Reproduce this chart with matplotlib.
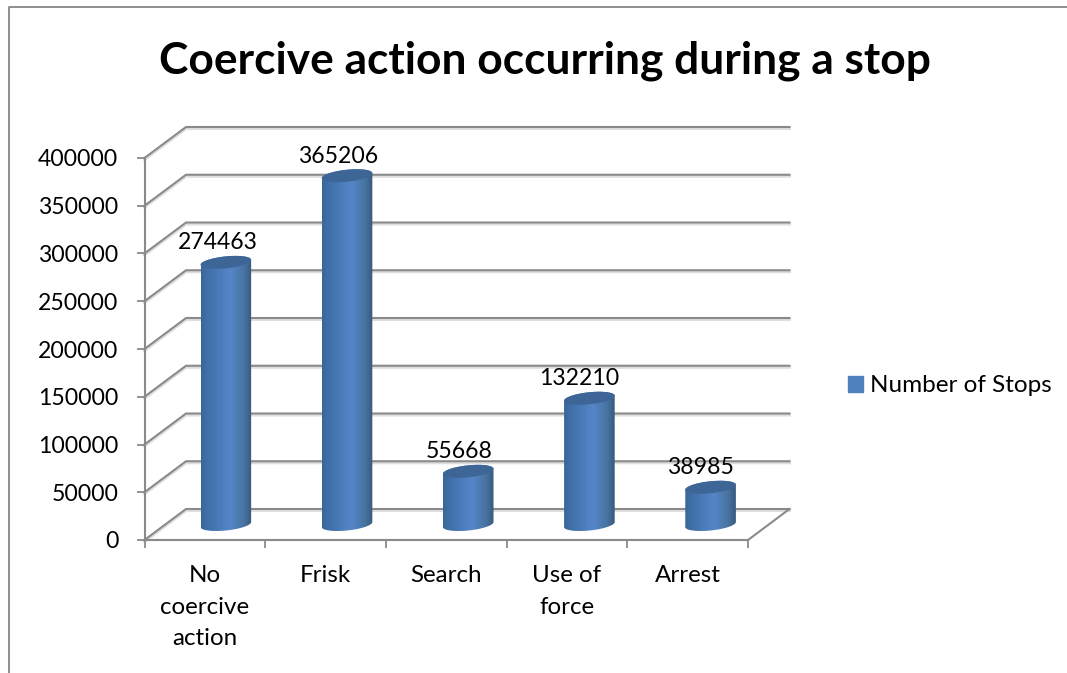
import numpy as np
import matplotlib
matplotlib.use('Agg')
import matplotlib.pyplot as plt
from matplotlib.colors import LinearSegmentedColormap
from matplotlib.lines import Line2D
from matplotlib.patches import Patch, PathPatch
from matplotlib.path import Path

# Data
categories = ['No\ncoercive\naction', 'Frisk', 'Search', 'Use of\nforce', 'Arrest']
stops = [274463, 365206, 55668, 132210, 38985]
yticks = [0, 50000, 100000, 150000, 200000, 250000, 300000, 350000, 400000]
series_name = 'Number of Stops'
title = 'Coercive action occurring during a stop'

W, H = 1067, 673
plt.rcParams['font.family'] = ['Lato', 'DejaVu Sans']
GRID = '#8a8a8a'
BLUE = '#4f81bd'

fig = plt.figure(figsize=(W / 100, H / 100), dpi=100, facecolor='white')
# front plane of the fake 3d box
ax = fig.add_axes([144.5 / W, 1 - 540 / H, 603.5 / W, 382 / H])
ax.set_xlim(0, 5)
ax.set_ylim(0, 400000)
ax.patch.set_visible(False)

# pixels to data units
px_x = 5 / 603.5
px_y = 400000 / 382
depth_x = 41.5 * px_x
depth_y = 31 * px_y

# back wall, side wall and floor lines
for v in yticks:
    xs = [0, depth_x, 5 + depth_x]
    ys = [v, v + depth_y, v + depth_y]
    ax.plot(xs, [y - 1.5 * px_y for y in ys], color='#dedede', lw=2.2, clip_on=False, zorder=1)
    ax.plot(xs, ys, color=GRID, lw=1.5, clip_on=False, zorder=2)
ax.plot([5, 5 + depth_x], [0, depth_y], color=GRID, lw=1.5, clip_on=False, zorder=2)

# cylinders
cyl = LinearSegmentedColormap.from_list('cyl', [
    (0.0, '#3a6697'), (0.12, '#406fa8'), (0.58, '#5586c8'),
    (0.85, '#47739f'), (1.0, '#38597f')])
half_w = 25.3 * px_x
b = 6 * px_y
tilt = 2.5 * px_y


def ellipse(cx, cy, t):
    return cx + half_w * np.cos(t), cy + b * np.sin(t) + tilt * np.cos(t)


grad = np.linspace(0, 1, 256).reshape(1, -1)
for i, v in enumerate(stops):
    # bars sit a little wider apart than the front ticks
    cx = (i + 0.5) * 1.004 + depth_x / 2
    base = depth_y / 2
    top = v + base
    x1, y1 = ellipse(cx, base, np.linspace(np.pi, 2 * np.pi, 60))
    x2, y2 = ellipse(cx, top, np.linspace(0, np.pi, 60))
    verts = np.column_stack([np.r_[x1, x2, x1[0]], np.r_[y1, y2, y1[0]]])
    body = PathPatch(Path(verts), fc='none', ec='none', transform=ax.transData, clip_on=False)
    ax.add_patch(body)
    im = ax.imshow(grad, cmap=cyl, aspect='auto', interpolation='bilinear', zorder=3,
                   extent=[cx - half_w, cx + half_w, base - 3 * b, top + 3 * b])
    im.set_clip_path(body)
    xt, yt = ellipse(cx, top, np.linspace(0, 2 * np.pi, 90))
    ax.fill(xt, yt, color='#3d6596', lw=0, zorder=4, clip_on=False)
    ax.text(i + 0.5 + 12.5 * px_x, top + 19.5 * px_y, str(v), ha='center', va='center',
            fontsize=16.6, color='black', zorder=5, clip_on=False)

ax.set_xlim(0, 5)
ax.set_ylim(0, 400000)

# axes
for s in ['top', 'right']:
    ax.spines[s].set_visible(False)
for s in ['left', 'bottom']:
    ax.spines[s].set_color(GRID)
    ax.spines[s].set_linewidth(1.5)
ax.set_yticks(yticks)
ax.set_yticklabels([str(v) for v in yticks])
ax.set_xticks(range(6))
ax.set_xticklabels([])
ax.set_xticks(np.arange(5) + 0.5, categories, minor=True, linespacing=1.62)
ax.tick_params(axis='y', length=5.8, width=1.3, color=GRID, pad=13, labelsize=16.6)
ax.tick_params(axis='x', which='major', length=5.8, width=1.3, color=GRID)
ax.tick_params(axis='x', which='minor', length=0, pad=18, labelsize=17.4)

# title, legend, chart frame
fig.text(544.5 / W, 1 - 61 / H, title, ha='center', va='center', fontsize=31.9, fontweight='bold')
fig.legend(handles=[Patch(color=BLUE, label=series_name)], loc='center left',
           bbox_to_anchor=(848 / W, 1 - 386 / H), frameon=False, fontsize=17.5,
           borderpad=0, borderaxespad=0, handlelength=0.62, handleheight=0.62, handletextpad=0.28)
fig.add_artist(Line2D([9 / W, 9 / W, 1], [0, 1 - 7 / H, 1 - 7 / H], color='#868686', lw=1.3,
                      transform=fig.transFigure))

fig.savefig('out.png', dpi=100)
